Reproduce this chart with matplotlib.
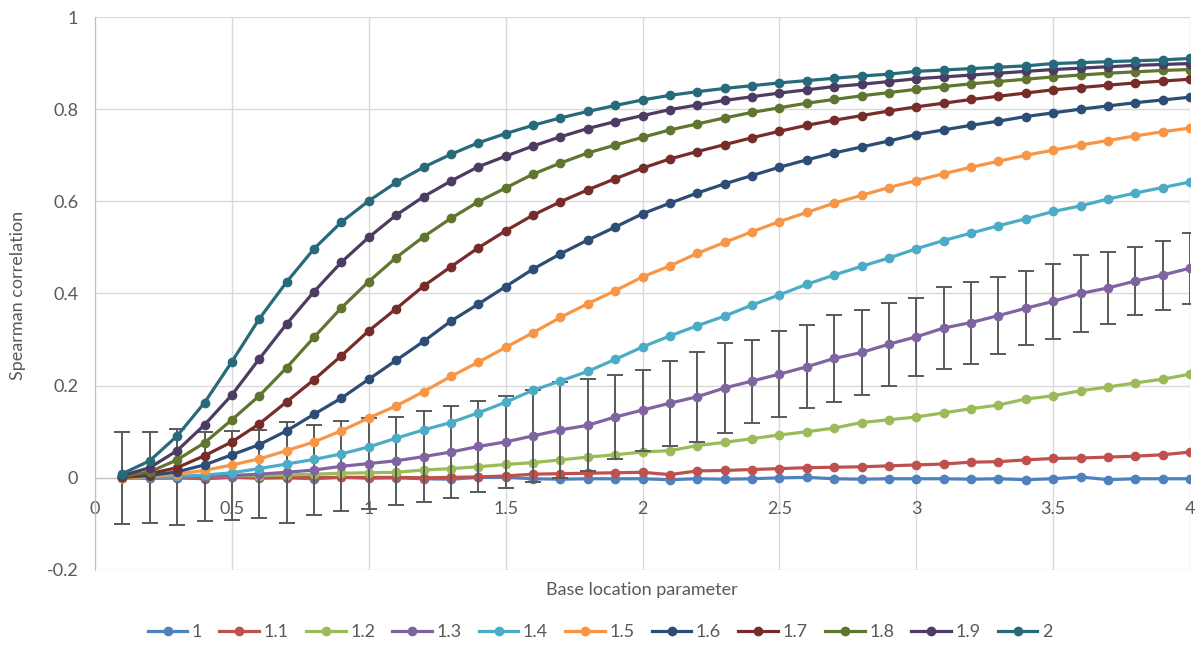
import matplotlib
matplotlib.use("Agg")
import matplotlib.pyplot as plt
import numpy as np

plt.rcParams['font.family'] = ['Lato', 'DejaVu Sans']

x = [0.1, 0.2, 0.3, 0.4, 0.5, 0.6, 0.7, 0.8, 0.9, 1.0,
     1.1, 1.2, 1.3, 1.4, 1.5, 1.6, 1.7, 1.8, 1.9, 2.0,
     2.1, 2.2, 2.3, 2.4, 2.5, 2.6, 2.7, 2.8, 2.9, 3.0,
     3.1, 3.2, 3.3, 3.4, 3.5, 3.6, 3.7, 3.8, 3.9, 4.0]

labels = ["1", "1.1", "1.2", "1.3", "1.4", "1.5", "1.6", "1.7", "1.8", "1.9", "2"]

s_10 = [0.001, -0.001, 0.000, -0.002, 0.001, -0.001, 0.000, -0.002, 0.001, -0.001,
        0.000, -0.002, -0.003, 0.001, 0.001, -0.002, -0.003, -0.002, -0.002, -0.002,
        -0.004, -0.002, -0.003, -0.002, 0.000, 0.001, -0.002, -0.003, -0.002, -0.002,
        -0.002, -0.003, -0.002, -0.004, -0.002, 0.002, -0.004, -0.002, -0.002, -0.002]
s_11 = [0.000, 0.000, 0.000, 0.000, 0.001, 0.001, 0.001, 0.001, 0.001, 0.001,
        0.001, 0.000, 0.001, 0.002, 0.004, 0.008, 0.009, 0.010, 0.011, 0.012,
        0.007, 0.015, 0.016, 0.018, 0.020, 0.022, 0.023, 0.024, 0.026, 0.028,
        0.030, 0.034, 0.035, 0.039, 0.042, 0.043, 0.045, 0.047, 0.050, 0.056]
s_12 = [0.000, 0.001, 0.002, 0.003, 0.004, 0.005, 0.006, 0.008, 0.010, 0.011,
        0.012, 0.017, 0.020, 0.024, 0.029, 0.033, 0.039, 0.045, 0.050, 0.056,
        0.059, 0.070, 0.077, 0.085, 0.093, 0.100, 0.108, 0.120, 0.126, 0.132,
        0.141, 0.150, 0.158, 0.171, 0.178, 0.189, 0.197, 0.206, 0.214, 0.225]
s_13 = [0.000, 0.001, 0.002, 0.003, 0.005, 0.008, 0.012, 0.017, 0.025, 0.031,
        0.037, 0.046, 0.056, 0.068, 0.078, 0.091, 0.104, 0.114, 0.132, 0.147,
        0.162, 0.176, 0.195, 0.210, 0.225, 0.241, 0.259, 0.272, 0.290, 0.306,
        0.325, 0.337, 0.352, 0.368, 0.383, 0.400, 0.412, 0.427, 0.440, 0.455]
err_13 = [0.100, 0.099, 0.105, 0.097, 0.097, 0.095, 0.110, 0.098, 0.098, 0.098,
          0.096, 0.098, 0.100, 0.098, 0.100, 0.100, 0.105, 0.100, 0.092, 0.088,
          0.092, 0.098, 0.097, 0.090, 0.094, 0.090, 0.094, 0.093, 0.090, 0.085,
          0.089, 0.089, 0.083, 0.080, 0.081, 0.083, 0.079, 0.074, 0.075, 0.077]
s_14 = [0.000, 0.001, 0.003, 0.006, 0.011, 0.020, 0.030, 0.040, 0.052, 0.067,
        0.086, 0.104, 0.120, 0.141, 0.164, 0.190, 0.210, 0.231, 0.257, 0.284,
        0.308, 0.330, 0.351, 0.375, 0.397, 0.420, 0.440, 0.459, 0.477, 0.497,
        0.515, 0.531, 0.547, 0.562, 0.578, 0.590, 0.605, 0.618, 0.630, 0.642]
s_15 = [0.000, 0.003, 0.008, 0.016, 0.028, 0.041, 0.059, 0.078, 0.102, 0.130,
        0.156, 0.187, 0.220, 0.251, 0.283, 0.315, 0.348, 0.378, 0.406, 0.436,
        0.460, 0.487, 0.511, 0.534, 0.556, 0.576, 0.596, 0.613, 0.630, 0.645,
        0.660, 0.674, 0.687, 0.700, 0.711, 0.722, 0.732, 0.742, 0.751, 0.759]
s_16 = [0.001, 0.005, 0.013, 0.028, 0.050, 0.072, 0.102, 0.138, 0.173, 0.214,
        0.255, 0.296, 0.340, 0.377, 0.415, 0.453, 0.486, 0.516, 0.544, 0.573,
        0.596, 0.618, 0.638, 0.656, 0.674, 0.690, 0.705, 0.718, 0.731, 0.745,
        0.755, 0.765, 0.774, 0.784, 0.792, 0.800, 0.807, 0.814, 0.820, 0.826]
s_17 = [0.002, 0.009, 0.022, 0.048, 0.078, 0.117, 0.165, 0.213, 0.265, 0.319,
        0.367, 0.416, 0.458, 0.499, 0.536, 0.570, 0.599, 0.625, 0.649, 0.672,
        0.692, 0.708, 0.723, 0.738, 0.752, 0.765, 0.776, 0.786, 0.796, 0.805,
        0.813, 0.821, 0.828, 0.835, 0.842, 0.847, 0.852, 0.857, 0.861, 0.865]
s_18 = [0.003, 0.013, 0.039, 0.076, 0.126, 0.178, 0.239, 0.305, 0.369, 0.426,
        0.478, 0.523, 0.563, 0.599, 0.629, 0.659, 0.683, 0.705, 0.722, 0.739,
        0.755, 0.768, 0.781, 0.793, 0.803, 0.813, 0.821, 0.829, 0.836, 0.843,
        0.849, 0.855, 0.860, 0.865, 0.870, 0.874, 0.878, 0.881, 0.884, 0.886]
s_19 = [0.005, 0.022, 0.059, 0.115, 0.180, 0.258, 0.334, 0.404, 0.468, 0.522,
        0.570, 0.610, 0.644, 0.675, 0.698, 0.720, 0.740, 0.758, 0.773, 0.786,
        0.799, 0.809, 0.819, 0.827, 0.835, 0.842, 0.849, 0.854, 0.860, 0.866,
        0.870, 0.874, 0.878, 0.882, 0.886, 0.889, 0.892, 0.895, 0.897, 0.899]
s_20 = [0.009, 0.037, 0.091, 0.163, 0.252, 0.345, 0.425, 0.497, 0.555, 0.601,
        0.641, 0.674, 0.702, 0.727, 0.747, 0.765, 0.781, 0.795, 0.808, 0.820,
        0.830, 0.838, 0.845, 0.851, 0.857, 0.862, 0.867, 0.872, 0.876, 0.882,
        0.885, 0.888, 0.891, 0.894, 0.899, 0.901, 0.903, 0.905, 0.907, 0.910]

series = [s_10, s_11, s_12, s_13, s_14, s_15, s_16, s_17, s_18, s_19, s_20]
colors = ["#4F81BD", "#C0504D", "#9BBB59", "#8064A2", "#4BACC6", "#F79646",
          "#2C4D75", "#772C2A", "#5F7530", "#4D3B62", "#276A7C"]

xticks = [0, 0.5, 1, 1.5, 2, 2.5, 3, 3.5, 4]
xticklabels = ["0", "0.5", "1", "1.5", "2", "2.5", "3", "3.5", "4"]
yticks = [-0.2, 0, 0.2, 0.4, 0.6, 0.8, 1]
yticklabels = ["-0.2", "0", "0.2", "0.4", "0.6", "0.8", "1"]

W, H = 1196, 657
fig = plt.figure(figsize=(W / 100, H / 100), dpi=100)
ax = fig.add_axes([95 / W, 1 - 570 / H, (1190 - 95) / W, (570 - 17) / H])
ax.set_xlim(0, 4)
ax.set_ylim(-0.2, 1)
ax.set_xticks(xticks)
ax.set_xticklabels(xticklabels)
ax.set_yticks(yticks)
ax.set_yticklabels(yticklabels)
ax.grid(True, color="#D9D9D9", linewidth=1.0, zorder=0)
ax.set_axisbelow(True)

for sp in ["top", "right"]:
    ax.spines[sp].set_visible(False)
ax.spines["left"].set_color("#BFBFBF")
ax.spines["bottom"].set_color("#BFBFBF")
ax.spines["bottom"].set_position(("data", 0))
ax.tick_params(axis="both", length=0, labelsize=13, labelcolor="#595959")
ax.tick_params(axis="x", pad=17)
ax.tick_params(axis="y", pad=12)

handles = []
for i, (ys, c, lab) in enumerate(zip(series, colors, labels)):
    z = 3 + i * 2
    if lab == "1.3":
        ax.errorbar(x, ys, yerr=err_13, fmt="none", ecolor="#595959",
                    elinewidth=1.4, capsize=5.5, capthick=1.4, zorder=z - 0.5)
    ln, = ax.plot(x, ys, color=c, linewidth=2.3, marker="o", markersize=7,
                  markeredgewidth=0, label=lab, zorder=z)
    handles.append(ln)

fig.text(642 / W, 1 - 590 / H, "Base location parameter", ha="center",
         va="center", fontsize=13, color="#595959")
fig.text(18 / W, 1 - 295 / H, "Spearman correlation", ha="center",
         va="center", rotation=90, fontsize=13, color="#595959")

leg = fig.legend(handles=handles, loc="center", bbox_to_anchor=(600 / W, 1 - 632 / H),
                 ncol=11, frameon=False, fontsize=13, handlelength=2.2,
                 handletextpad=0.25, columnspacing=0.95, labelcolor="#595959")

fig.savefig("out.png", dpi=100)
